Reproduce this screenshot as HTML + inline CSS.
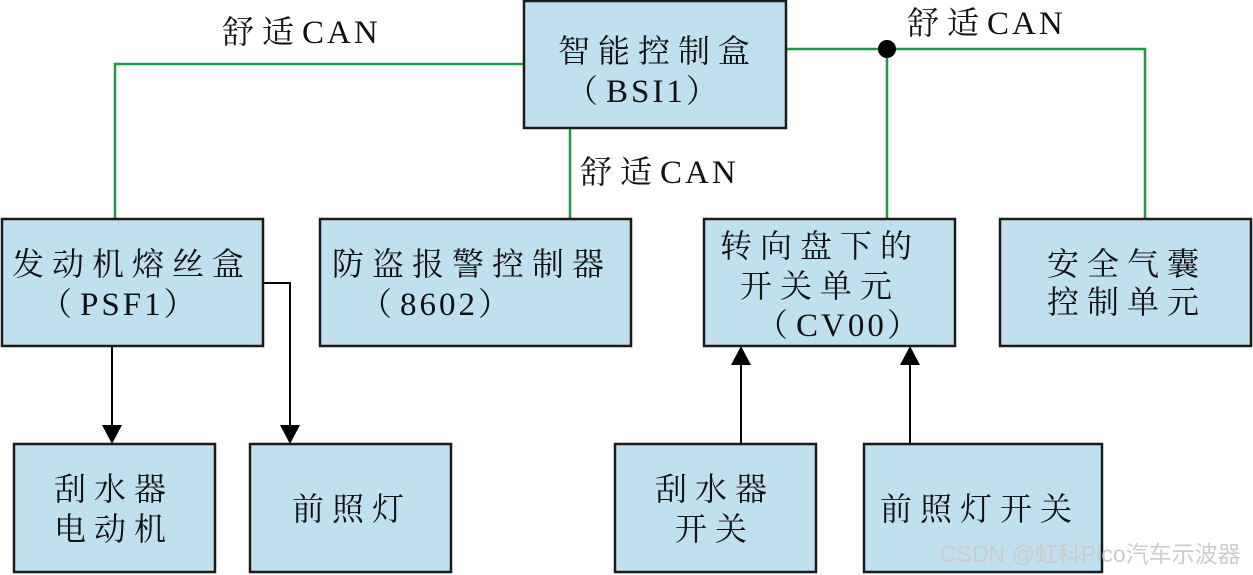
<!DOCTYPE html>
<html><head><meta charset="utf-8"><style>
html,body{margin:0;padding:0;background:#fff;width:1253px;height:575px;overflow:hidden}
svg text{font-family:"Liberation Serif","Noto Serif CJK SC",serif;font-size:32px;fill:#111;letter-spacing:8px}
tspan.l{letter-spacing:3px;font-size:33px}
</style></head><body>
<svg width="1253" height="575" xmlns="http://www.w3.org/2000/svg">
<g stroke="#1a9a4a" stroke-width="2.5" fill="none">
<path d="M524,64 H115 V219"/>
<path d="M786,49 H1145 V219"/>
<path d="M887,49 V219"/>
<path d="M570,128 V219"/>
</g>
<circle cx="887" cy="49" r="9" fill="#000"/>
<g stroke="#000" stroke-width="2" fill="none">
<path d="M112,346 V428"/>
<path d="M263,283 H290 V428"/>
<path d="M741,444 V362"/>
<path d="M910,444 V362"/>
</g>
<g fill="#000">
<path d="M102,425 L122,425 L112,444 z"/>
<path d="M280,425 L300,425 L290,444 z"/>
<path d="M731,365 L751,365 L741,346 z"/>
<path d="M900,365 L920,365 L910,346 z"/>
</g>
<g fill="#c0e0ee" stroke="#1a1a1a" stroke-width="2.5">
<rect x="524" y="1" width="262" height="127"/>
<rect x="2" y="219" width="261" height="127"/>
<rect x="320" y="219" width="311" height="127"/>
<rect x="704" y="219" width="251" height="127"/>
<rect x="1000" y="219" width="251" height="127"/>
<rect x="14" y="444" width="201" height="128"/>
<rect x="250" y="444" width="201" height="128"/>
<rect x="615" y="444" width="201" height="128"/>
<rect x="864" y="444" width="238" height="128"/>
</g>
<text x="222" y="43">舒适<tspan class="l">CAN</tspan></text>
<text x="907" y="34">舒适<tspan class="l">CAN</tspan></text>
<text x="580" y="183">舒适<tspan class="l">CAN</tspan></text>
<text x="558" y="62">智能控制盒</text>
<text x="566" y="102">（<tspan class="l">BSI1</tspan>）</text>
<text x="12" y="275">发动机熔丝盒</text>
<text x="40" y="315">（<tspan class="l">PSF1</tspan>）</text>
<text x="332" y="275">防盗报警控制器</text>
<text x="360" y="315">（<tspan class="l">8602</tspan>）</text>
<text x="720" y="257">转向盘下的</text>
<text x="740" y="297">开关单元</text>
<text x="756" y="336">（<tspan class="l">CV00</tspan>）</text>
<text x="1047" y="275">安全气囊</text>
<text x="1047" y="313">控制单元</text>
<text x="54" y="500">刮水器</text>
<text x="54" y="540">电动机</text>
<text x="292" y="520">前照灯</text>
<text x="655" y="500">刮水器</text>
<text x="675" y="540">开关</text>
<text x="880" y="520">前照灯开关</text>
<text x="940" y="562" style="font-size:23px;fill:#ccc;letter-spacing:0;font-family:'Liberation Sans','Noto Sans CJK SC',sans-serif">CSDN @虹科Pico汽车示波器</text>
</svg>
</body></html>
